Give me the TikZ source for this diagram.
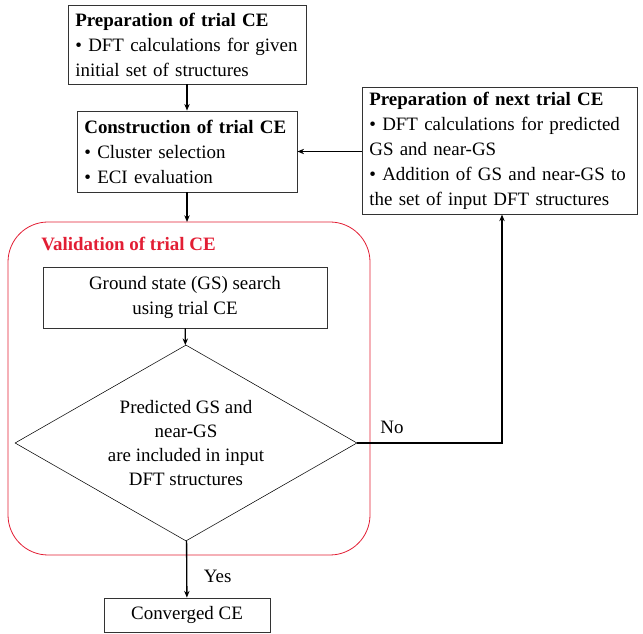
\documentclass[tikz,border=0pt]{standalone}
\usepackage{fontspec}
\setmainfont{Liberation Serif}
\usetikzlibrary{shapes.geometric,arrows.meta}
\definecolor{valred}{RGB}{226,30,52}

\begin{document}
\begin{tikzpicture}[
  x = 0.75pt, y = -0.75pt,
  font = \fontsize{14.2}{18.75}\selectfont,
  box/.style = {draw = black!80, line width = 0.6pt, inner xsep = 5.5pt, align = left},
  flow/.style = {-{Stealth[length=5pt,width=4pt]}, line width = 1pt}
  ]
  \useasboundingbox (0,0) rectangle (643,634);
  \draw[valred, line width = 0.6pt, rounded corners = 30pt] (8,222) rectangle (370,555);
  \node[valred, font = \fontsize{14.2}{18.75}\selectfont\bfseries, anchor = west, inner sep = 0pt] (vallabel) at (41,244) {Validation of trial CE};

  \node[box, text width = 167.5pt, minimum height = 59.25pt] (trialprep) at (187,44.5)
    {\textbf{Preparation of trial CE}\\ \textbullet\ DFT calculations for given initial set of structures};
  \node[box, text width = 154pt, minimum height = 60.75pt] (construct) at (187,151.5)
    {\textbf{Construction of trial CE}\\ \textbullet\ Cluster selection\\ \textbullet\ ECI evaluation};
  \node[box, text width = 195.25pt, minimum height = 94.5pt] (nextprep) at (499.5,151)
    {\textbf{Preparation of next trial CE}\\ \textbullet\ DFT calculations for predicted\\ GS and near-GS\\ \textbullet\ Addition of GS and near-GS to\\ the set of input DFT structures};
  \node[box, align = center, minimum width = 213pt, minimum height = 45.75pt, inner xsep = 0pt] (gssearch) at (185,297.5)
    {Ground state (GS) search\\ using trial CE};
  \node[draw, diamond, aspect = 1.745, inner sep = 0pt, align = center, font = \fontsize{14.2}{18}\selectfont,
        minimum width = 256.5pt, minimum height = 147pt] (check) at (186,443)
    {Predicted GS and\\ near-GS\\ are included in input\\ DFT structures};
  \node[box, align = center, minimum width = 124.5pt, minimum height = 25.5pt, inner xsep = 0pt] (converged) at (187,615)
    {Converged CE};
  \coordinate (turn) at (502,443);

  \draw[flow] (trialprep) -- (construct);
  \draw[flow] (construct.south) -- (187,222);
  \draw[flow] (gssearch) -- (check);
  \draw[flow] (check) -- node[right, pos = 0.62, xshift = 9pt] (yes) {Yes} (converged);
  \draw[flow] (check.east) -- node[above, pos = 0.24, yshift = 3pt] (no) {No} (turn) -- (turn |- nextprep.south);
  \draw[flow] (nextprep.west |- construct.east) -- (construct.east);
\end{tikzpicture}
\end{document}
